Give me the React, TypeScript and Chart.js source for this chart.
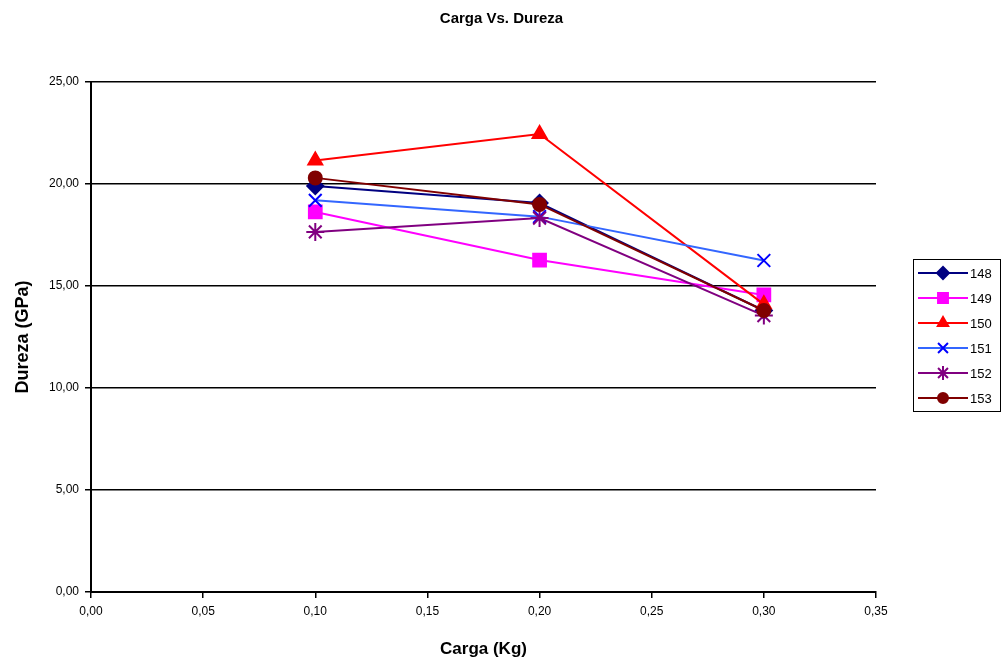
import React, { useEffect, useRef } from "react";
import { Chart, registerables } from "chart.js";
import { drawPoint } from "chart.js/helpers";

Chart.register(...registerables);

const cargas = [0.1, 0.2, 0.3];
const seriesNames = ["148", "149", "150", "151", "152", "153"];
const s148 = [19.9, 19.07, 13.8];
const s149 = [18.63, 16.27, 14.56];
const s150 = [21.15, 22.45, 14.1];
const s151 = [19.2, 18.4, 16.25];
const s152 = [17.65, 18.33, 13.55];
const s153 = [20.3, 19.0, 13.8];
const xTicks = [0, 0.05, 0.1, 0.15, 0.2, 0.25, 0.3, 0.35];
const yTicks = [0, 5, 10, 15, 20, 25];

const seriesValues = [s148, s149, s150, s151, s152, s153];
const lineColors = ["#000080", "#FF00FF", "#FF0000", "#3366FF", "#800080", "#800000"];
const markerColors = ["#000080", "#FF00FF", "#FF0000", "#0000FF", "#800080", "#800000"];
const markerStyles: any[] = ["rectRot", "rect", "triangle", "crossRot", "star", "circle"];
const markerRadius = [8, 9, 8, 9, 9, 6.5];
const legendRadius = [6, 7, 6, 7, 7, 5];

const fmt = (v: number) => v.toFixed(2).replace(".", ",");

const FONT = "'Liberation Sans', Arial, sans-serif";

export default function App() {
  const ref = useRef<HTMLCanvasElement | null>(null);
  useEffect(() => {
    if (!ref.current) return;
    const datasets = seriesNames.map((name, i) => ({
      label: name,
      data: cargas.map((x, j) => ({ x, y: seriesValues[i][j] })),
      borderColor: lineColors[i],
      backgroundColor: markerColors[i],
      pointBorderColor: markerColors[i],
      pointBackgroundColor: markerColors[i],
      pointStyle: markerStyles[i],
      pointRadius: markerRadius[i],
      pointBorderWidth: 2,
      borderWidth: 2,
      showLine: true,
      fill: false,
      tension: 0,
      order: seriesNames.length - i,
    }));
    const legendPlugin = {
      id: "excelLegend",
      afterDraw(chart: any) {
        const ctx = chart.ctx;
        const left = 913;
        const top = 259;
        const rowH = 25;
        const right = 1001;
        const bottom = top + rowH * seriesNames.length + 2;
        ctx.save();
        ctx.strokeStyle = "#000";
        ctx.lineWidth = 1;
        ctx.strokeRect(left + 0.5, top + 0.5, right - left - 1, bottom - top);
        ctx.font = "13px " + FONT;
        ctx.textBaseline = "middle";
        seriesNames.forEach((name, i) => {
          const y = top + 14 + i * rowH;
          ctx.strokeStyle = lineColors[i];
          ctx.lineWidth = 2;
          ctx.beginPath();
          ctx.moveTo(918, y);
          ctx.lineTo(968, y);
          ctx.stroke();
          ctx.strokeStyle = markerColors[i];
          ctx.fillStyle = markerColors[i];
          ctx.lineWidth = 2;
          drawPoint(
            ctx,
            { pointStyle: markerStyles[i], radius: legendRadius[i], borderWidth: 2, rotation: 0 } as any,
            943,
            y
          );
          ctx.fillStyle = "#000";
          ctx.textAlign = "left";
          ctx.fillText(name, 970, y + 1);
        });
        ctx.restore();
      },
    };
    const chart = new Chart(ref.current, {
      type: "scatter",
      data: { datasets: datasets as any },
      plugins: [legendPlugin],
      options: {
        animation: false,
        responsive: false,
        maintainAspectRatio: false,
        layout: { padding: 0 },
        plugins: {
          legend: { display: false },
          tooltip: { enabled: false },
          title: {
            display: true,
            text: "Carga Vs. Dureza",
            color: "#000",
            font: { family: FONT, size: 15, weight: "bold" },
            padding: { top: 10, bottom: 54 },
          },
        },
        scales: {
          x: {
            type: "linear",
            min: 0,
            max: 0.35,
            afterBuildTicks: (scale: any) => {
              scale.ticks = xTicks.map((v) => ({ value: v }));
            },
            afterFit: (scale: any) => {
              scale.height = 68;
            },
            ticks: {
              color: "#000",
              font: { family: FONT, size: 12 },
              padding: 6,
              maxRotation: 0,
              autoSkip: false,
              callback: (v: any) => fmt(Number(v)),
            },
            grid: {
              drawOnChartArea: false,
              drawTicks: true,
              tickLength: 6,
              color: "#000",
              lineWidth: 1.5,
            },
            border: { color: "#000", width: 2 },
            title: {
              display: true,
              text: "Carga (Kg)",
              color: "#000",
              font: { family: FONT, size: 17, weight: "bold" },
              padding: { top: 8, bottom: 0 },
            },
          },
          y: {
            type: "linear",
            position: "left",
            min: 0,
            max: 25,
            afterBuildTicks: (scale: any) => {
              scale.ticks = yTicks.map((v) => ({ value: v }));
            },
            afterFit: (scale: any) => {
              scale.width = 91;
            },
            ticks: {
              color: "#000",
              font: { family: FONT, size: 12 },
              padding: 6,
              callback: (v: any) => fmt(Number(v)),
            },
            grid: {
              drawOnChartArea: true,
              drawTicks: true,
              tickLength: 6,
              color: "#000",
              lineWidth: 1.5,
            },
            border: { color: "#000", width: 2 },
            title: {
              display: true,
              text: "Dureza (GPa)",
              color: "#000",
              font: { family: FONT, size: 18, weight: "bold" },
              padding: { top: 12, bottom: 0 },
            },
          },
          yRight: {
            type: "linear",
            position: "right",
            display: true,
            min: 0,
            max: 25,
            afterFit: (scale: any) => {
              scale.width = 127;
            },
            ticks: { display: false },
            grid: { display: false, drawTicks: false },
            border: { display: false },
            title: { display: false },
          },
        },
      },
    });
    return () => chart.destroy();
  }, []);
  return (
    <div style={{ position: "fixed", left: 0, top: 0, width: 1003, height: 660, background: "#fff" }}>
      <canvas ref={ref} width={1003} height={660} style={{ width: 1003, height: 660 }} />
    </div>
  );
}
